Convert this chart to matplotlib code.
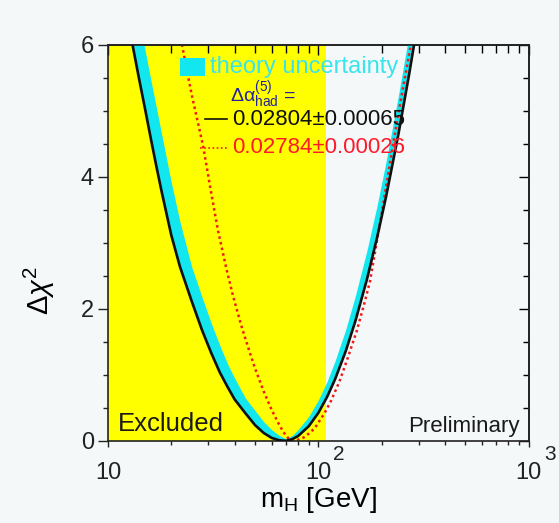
import matplotlib
matplotlib.use('Agg')
import matplotlib.pyplot as plt
from matplotlib.patches import Rectangle

plt.rcParams.update({
    'font.family': ['Liberation Sans', 'DejaVu Sans'],
    'mathtext.fontset': 'custom',
    'mathtext.rm': 'Liberation Sans',
    'mathtext.it': 'Liberation Sans:italic',
    'mathtext.bf': 'Liberation Sans:bold',
})

# Δχ² vs m_H, black curve and upper edge of theory band (same grid)
m_H = [12, 12.5, 13.1, 14, 15, 16, 17, 18, 20, 22, 25, 28, 31, 34, 37, 40, 45,
       50, 55, 60, 65, 70, 75, 80, 90, 100, 110, 120, 135, 150, 170, 190, 210, 240,
       270, 290, 300]
chi2_black = [6.65, 6.35, 6.0, 5.52, 5.04, 4.58, 4.16, 3.78, 3.12, 2.64, 2.12, 1.68,
              1.33, 1.04, 0.82, 0.63, 0.42, 0.24, 0.12, 0.045, 0.01, 0.0, 0.025, 0.072,
              0.222, 0.425, 0.666, 0.932, 1.362, 1.818, 2.443, 3.077, 3.708, 4.644,
              5.557, 6.15, 6.5]
chi2_band_hi = [7.6, 7.28, 6.94, 6.45, 5.93, 5.47, 5.05, 4.65, 3.92, 3.32, 2.64, 2.18,
                1.78, 1.45, 1.17, 0.95, 0.65, 0.46, 0.29, 0.17, 0.085, 0.033, 0.08, 0.17,
                0.37, 0.62, 0.90, 1.21, 1.69, 2.20, 2.88, 3.56, 4.24, 5.23, 6.17, 6.9, 7.2]

# red dotted curve (alternative Δα_had)
m_red = [21.5, 22.5, 25, 28.3, 31, 33.3, 36.5, 39.3, 43, 47, 50, 55, 60, 64.3, 68, 72,
         75, 79, 85, 90, 96, 107, 115, 126, 138, 152, 165, 176, 200, 226, 250, 275, 285]
chi2_red = [6.35, 6.0, 5.25, 4.48, 3.75, 3.2, 2.62, 2.2, 1.75, 1.36, 1.1, 0.75, 0.47,
            0.28, 0.14, 0.04, 0.0, 0.01, 0.05, 0.11, 0.19, 0.42, 0.61, 0.9, 1.26, 1.66,
            2.07, 2.42, 3.45, 4.48, 5.27, 6.0, 6.35]

excluded_limit = 109.0
x_ticks = [10, 100, 1000]
x_labels = ['10', '10', '10']
x_exponents = ['', '2', '3']
y_ticks = [0, 2, 4, 6]

bg = '#f5f8f8'
cyan = '#12e6ee'

fig = plt.figure(figsize=(5.59, 5.23), dpi=100, facecolor=bg)
ax = fig.add_axes([0.193, 0.157, 0.753, 0.757])
ax.set_facecolor(bg)

ax.axvspan(10, excluded_limit, color='#ffff00', lw=0, zorder=0)
ax.fill_between(m_H, chi2_black, chi2_band_hi, color=cyan, lw=0, zorder=1)
ax.plot(m_red, chi2_red, color='#f01818', lw=1.8, ls=(0, (1, 1.3)), zorder=2)
ax.plot(m_H, chi2_black, color='#101010', lw=1.9, zorder=3)

ax.set_xscale('log')
ax.set_xlim(10, 1000)
ax.set_ylim(0, 6)

# 刻度
ax.set_xticks(x_ticks)
ax.set_xticklabels(x_labels)
ax.set_yticks(y_ticks)
ax.set_yticks([0.5 * i for i in range(13)], minor=True)
ax.tick_params(axis='both', which='both', direction='out', top=False, right=False,
               labelsize=17, colors='#222222')
ax.tick_params(axis='y', which='major', length=7, width=1, pad=3)
ax.tick_params(axis='y', which='minor', length=3.5, width=1)
ax.tick_params(axis='x', which='major', length=4.5, width=1, pad=11)
ax.tick_params(axis='x', which='minor', length=3, width=1)
ax.xaxis.set_minor_formatter(matplotlib.ticker.NullFormatter())

for xv, e in zip(x_ticks, x_exponents):
    if e:
        ax.annotate(e, xy=(xv, 0), xycoords=('data', 'axes fraction'),
                    xytext=(15, -10), textcoords='offset points',
                    fontsize=15, ha='center', va='center', color='#222222',
                    annotation_clip=False)

top = ax.secondary_xaxis('top')
top.tick_params(which='both', direction='in', labeltop=False)
top.tick_params(which='major', length=7, width=1)
top.tick_params(which='minor', length=5.5, width=1)
right = ax.secondary_yaxis('right')
right.set_yticks(y_ticks)
right.set_yticks([0.5 * i for i in range(13)], minor=True)
right.tick_params(which='both', direction='in', labelright=False)
right.tick_params(which='major', length=7, width=1)
right.tick_params(which='minor', length=4, width=1)
for a in (ax, top, right):
    for s in a.spines.values():
        s.set_linewidth(1.2)
        s.set_color('#222222')

ax.set_xlabel(r'm$_{\rm H}$ [GeV]', fontsize=20)
ax.xaxis.set_label_coords(0.5, -0.112)
ax.set_ylabel(r'$\Delta\chi^2$', fontsize=21)
ax.yaxis.set_label_coords(-0.12, 0.38)

# legend
ax.add_patch(Rectangle((0.171, 0.922), 0.059, 0.045, transform=ax.transAxes,
                       color=cyan, lw=0, zorder=5))
ax.text(0.242, 0.944, 'theory uncertainty', transform=ax.transAxes, fontsize=17,
        color='#3ae4ec', va='center', zorder=5)
ax.text(0.29, 0.872, r'$\Delta\mathrm{\alpha}^{(5)}_{\rm had}$ =', transform=ax.transAxes,
        fontsize=14, color='#22229a', va='center', zorder=5)
ax.plot([0.230, 0.283], [0.813, 0.813], transform=ax.transAxes, color='#101010',
        lw=1.2, zorder=5)
ax.text(0.295, 0.813, '0.02804\u00b10.00065', transform=ax.transAxes, fontsize=16,
        color='#101010', va='center', zorder=5)
ax.plot([0.218, 0.283], [0.741, 0.741], transform=ax.transAxes, color='#f01818',
        lw=1.2, ls=(0, (1, 1.5)), zorder=5)
ax.text(0.295, 0.741, '0.02784\u00b10.00026', transform=ax.transAxes, fontsize=16,
        color='#ff1a2a', va='center', zorder=5)

ax.text(0.024, 0.042, 'Excluded', transform=ax.transAxes, fontsize=18.5,
        color='#1a1a1a', va='center', zorder=5)
ax.text(0.979, 0.036, 'Preliminary', transform=ax.transAxes, fontsize=16,
        color='#1a1a1a', va='center', ha='right', zorder=5)

plt.savefig('out.png', dpi=100, facecolor=bg)
plt.close()
